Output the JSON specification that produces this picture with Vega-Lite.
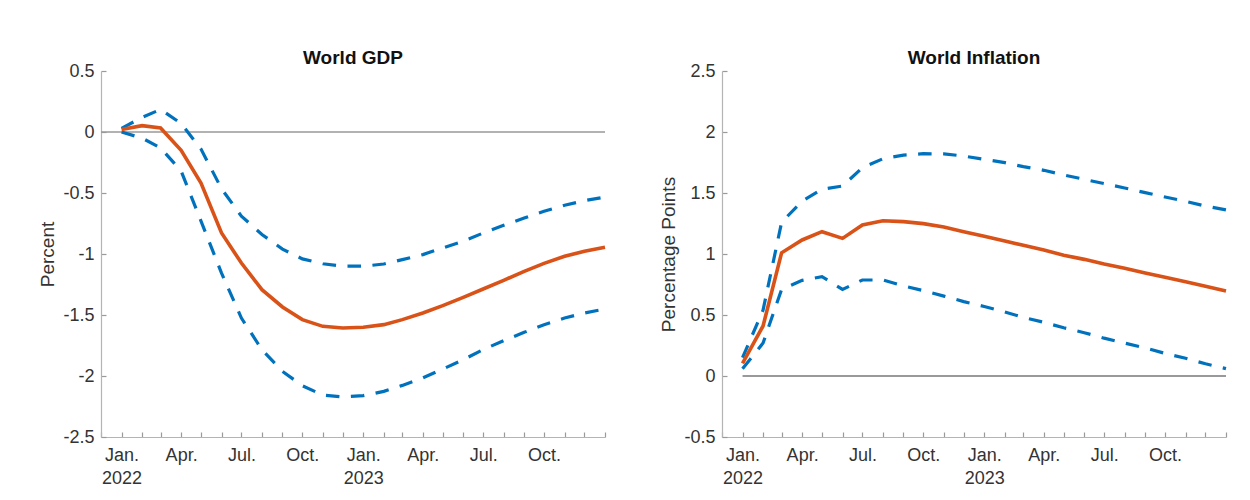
{
  "$schema": "https://vega.github.io/schema/vega-lite/v6.json",
  "padding": {"left": 38, "top": 49, "right": 0, "bottom": 0},
  "background": "white",
  "config": {
    "font": "Liberation Sans",
    "view": {"stroke": null},
    "axis": {
      "grid": false,
      "domainColor": "#b4b4b4",
      "domainWidth": 1.2,
      "tickColor": "#9a9a9a",
      "tickWidth": 1.2,
      "labelColor": "#333333",
      "titleColor": "#333333",
      "labelFont": "Liberation Sans",
      "titleFont": "Liberation Sans",
      "labelFontSize": 18,
      "titleFontSize": 19,
      "titleFontWeight": "normal"
    },
    "title": {"font": "Liberation Sans", "fontSize": 19, "fontWeight": "bold", "color": "#111111", "offset": -6, "frame": "group", "baseline": "alphabetic"}
  },
  "datasets": {
    "gdp": [
      {"date": "2022-01-01", "median": 0.02, "upper": 0.03, "lower": 0.0},
      {"date": "2022-02-01", "median": 0.052, "upper": 0.12, "lower": -0.05},
      {"date": "2022-03-01", "median": 0.033, "upper": 0.185, "lower": -0.13},
      {"date": "2022-04-01", "median": -0.15, "upper": 0.07, "lower": -0.32},
      {"date": "2022-05-01", "median": -0.418, "upper": -0.14, "lower": -0.73},
      {"date": "2022-06-01", "median": -0.828, "upper": -0.465, "lower": -1.156},
      {"date": "2022-07-01", "median": -1.074, "upper": -0.69, "lower": -1.525},
      {"date": "2022-08-01", "median": -1.292, "upper": -0.84, "lower": -1.784},
      {"date": "2022-09-01", "median": -1.434, "upper": -0.96, "lower": -1.962},
      {"date": "2022-10-01", "median": -1.538, "upper": -1.04, "lower": -2.08},
      {"date": "2022-11-01", "median": -1.593, "upper": -1.08, "lower": -2.156},
      {"date": "2022-12-01", "median": -1.607, "upper": -1.1, "lower": -2.172},
      {"date": "2023-01-01", "median": -1.601, "upper": -1.1, "lower": -2.161},
      {"date": "2023-02-01", "median": -1.579, "upper": -1.082, "lower": -2.126},
      {"date": "2023-03-01", "median": -1.538, "upper": -1.046, "lower": -2.077},
      {"date": "2023-04-01", "median": -1.484, "upper": -1.005, "lower": -2.016},
      {"date": "2023-05-01", "median": -1.423, "upper": -0.95, "lower": -1.943},
      {"date": "2023-06-01", "median": -1.355, "upper": -0.896, "lower": -1.866},
      {"date": "2023-07-01", "median": -1.287, "upper": -0.828, "lower": -1.784},
      {"date": "2023-08-01", "median": -1.216, "upper": -0.765, "lower": -1.71},
      {"date": "2023-09-01", "median": -1.142, "upper": -0.705, "lower": -1.642},
      {"date": "2023-10-01", "median": -1.077, "upper": -0.65, "lower": -1.579},
      {"date": "2023-11-01", "median": -1.019, "upper": -0.6, "lower": -1.525},
      {"date": "2023-12-01", "median": -0.978, "upper": -0.563, "lower": -1.484},
      {"date": "2024-01-01", "median": -0.945, "upper": -0.533, "lower": -1.451}
    ],
    "infl": [
      {"date": "2022-01-01", "median": 0.104, "upper": 0.15, "lower": 0.06},
      {"date": "2022-02-01", "median": 0.41, "upper": 0.54, "lower": 0.27},
      {"date": "2022-03-01", "median": 1.01, "upper": 1.26, "lower": 0.71},
      {"date": "2022-04-01", "median": 1.115, "upper": 1.434, "lower": 0.784},
      {"date": "2022-05-01", "median": 1.183, "upper": 1.53, "lower": 0.814},
      {"date": "2022-06-01", "median": 1.128, "upper": 1.557, "lower": 0.71},
      {"date": "2022-07-01", "median": 1.238, "upper": 1.708, "lower": 0.787},
      {"date": "2022-08-01", "median": 1.273, "upper": 1.781, "lower": 0.787},
      {"date": "2022-09-01", "median": 1.265, "upper": 1.811, "lower": 0.738},
      {"date": "2022-10-01", "median": 1.249, "upper": 1.822, "lower": 0.7},
      {"date": "2022-11-01", "median": 1.221, "upper": 1.82, "lower": 0.655},
      {"date": "2022-12-01", "median": 1.183, "upper": 1.803, "lower": 0.61},
      {"date": "2023-01-01", "median": 1.145, "upper": 1.776, "lower": 0.57},
      {"date": "2023-02-01", "median": 1.107, "upper": 1.749, "lower": 0.525},
      {"date": "2023-03-01", "median": 1.071, "upper": 1.716, "lower": 0.48},
      {"date": "2023-04-01", "median": 1.033, "upper": 1.686, "lower": 0.44},
      {"date": "2023-05-01", "median": 0.99, "upper": 1.648, "lower": 0.395},
      {"date": "2023-06-01", "median": 0.956, "upper": 1.612, "lower": 0.355},
      {"date": "2023-07-01", "median": 0.918, "upper": 1.577, "lower": 0.31},
      {"date": "2023-08-01", "median": 0.883, "upper": 1.541, "lower": 0.27},
      {"date": "2023-09-01", "median": 0.844, "upper": 1.503, "lower": 0.23},
      {"date": "2023-10-01", "median": 0.809, "upper": 1.467, "lower": 0.185},
      {"date": "2023-11-01", "median": 0.773, "upper": 1.432, "lower": 0.145},
      {"date": "2023-12-01", "median": 0.735, "upper": 1.393, "lower": 0.1},
      {"date": "2024-01-01", "median": 0.697, "upper": 1.361, "lower": 0.06}
    ],
    "gdpzero": [{"date": "2021-12-01", "end": "2024-01-01", "value": 0}],
    "inflzero": [{"date": "2022-01-01", "end": "2024-01-01", "value": 0}]
  },
  "spacing": 46,
  "hconcat": [
    {
      "width": 504,
      "height": 366,
      "title": "World GDP",
      "data": {"name": "gdp"},
      "encoding": {
        "x": {
          "field": "date",
          "type": "temporal",
          "title": null,
          "scale": {"type": "utc", "domain": [{"year": 2021, "month": 12, "date": 1, "utc": true}, {"year": 2024, "month": 1, "date": 1, "utc": true}]},
          "axis": {
            "tickCount": {"interval": "month", "step": 1},
            "labelExpr": "utcyear(datum.value) == 2024 ? '' : utcmonth(datum.value) == 0 ? ['Jan.', '' + utcyear(datum.value)] : utcmonth(datum.value) == 3 ? 'Apr.' : utcmonth(datum.value) == 6 ? 'Jul.' : utcmonth(datum.value) == 9 ? 'Oct.' : ''",
            "labelOverlap": false,
            "labelFlush": false,
            "labelAlign": "center",
            "labelBaseline": "top",
            "labelLineHeight": 23,
            "tickSize": -5,
            "labelPadding": 14
          }
        }
      },
      "layer": [
        {
          "data": {"name": "gdpzero"},
          "mark": {"type": "rule", "color": "#999999", "strokeWidth": 1.3},
          "encoding": {
            "x2": {"field": "end"},
            "y": {
              "field": "value",
              "type": "quantitative",
              "title": "Percent",
              "scale": {"domain": [-2.5, 0.5], "nice": false, "zero": false},
              "axis": {"values": [-2.5, -2, -1.5, -1, -0.5, 0, 0.5], "labelExpr": "'' + datum.value", "tickSize": -5, "labelPadding": 12, "titlePadding": 5}
            }
          }
        },
        {
          "mark": {"type": "line", "color": "#0072BD", "strokeWidth": 3.2, "strokeDash": [13.5, 11.5]},
          "encoding": {"y": {"field": "upper", "type": "quantitative", "title": "Percent"}}
        },
        {
          "mark": {"type": "line", "color": "#0072BD", "strokeWidth": 3.2, "strokeDash": [13.5, 11.5]},
          "encoding": {"y": {"field": "lower", "type": "quantitative", "title": "Percent"}}
        },
        {
          "mark": {"type": "line", "color": "#D95319", "strokeWidth": 3.6},
          "encoding": {"y": {"field": "median", "type": "quantitative", "title": "Percent"}}
        }
      ]
    },
    {
      "width": 504,
      "height": 366,
      "title": "World Inflation",
      "data": {"name": "infl"},
      "encoding": {
        "x": {
          "field": "date",
          "type": "temporal",
          "title": null,
          "scale": {"type": "utc", "domain": [{"year": 2021, "month": 12, "date": 1, "utc": true}, {"year": 2024, "month": 1, "date": 1, "utc": true}]},
          "axis": {
            "tickCount": {"interval": "month", "step": 1},
            "labelExpr": "utcyear(datum.value) == 2024 ? '' : utcmonth(datum.value) == 0 ? ['Jan.', '' + utcyear(datum.value)] : utcmonth(datum.value) == 3 ? 'Apr.' : utcmonth(datum.value) == 6 ? 'Jul.' : utcmonth(datum.value) == 9 ? 'Oct.' : ''",
            "labelOverlap": false,
            "labelFlush": false,
            "labelAlign": "center",
            "labelBaseline": "top",
            "labelLineHeight": 23,
            "tickSize": -5,
            "labelPadding": 14
          }
        }
      },
      "layer": [
        {
          "data": {"name": "inflzero"},
          "mark": {"type": "rule", "color": "#999999", "strokeWidth": 2},
          "encoding": {
            "x2": {"field": "end"},
            "y": {
              "field": "value",
              "type": "quantitative",
              "title": "Percentage Points",
              "scale": {"domain": [-0.5, 2.5], "nice": false, "zero": false},
              "axis": {"values": [-0.5, 0, 0.5, 1, 1.5, 2, 2.5], "labelExpr": "'' + datum.value", "tickSize": -5, "labelPadding": 12, "titlePadding": 5}
            }
          }
        },
        {
          "mark": {"type": "line", "color": "#0072BD", "strokeWidth": 3.2, "strokeDash": [13.5, 11.5]},
          "encoding": {"y": {"field": "upper", "type": "quantitative", "title": "Percentage Points"}}
        },
        {
          "mark": {"type": "line", "color": "#0072BD", "strokeWidth": 3.2, "strokeDash": [13.5, 11.5]},
          "encoding": {"y": {"field": "lower", "type": "quantitative", "title": "Percentage Points"}}
        },
        {
          "mark": {"type": "line", "color": "#D95319", "strokeWidth": 3.6},
          "encoding": {"y": {"field": "median", "type": "quantitative", "title": "Percentage Points"}}
        }
      ]
    }
  ]
}
